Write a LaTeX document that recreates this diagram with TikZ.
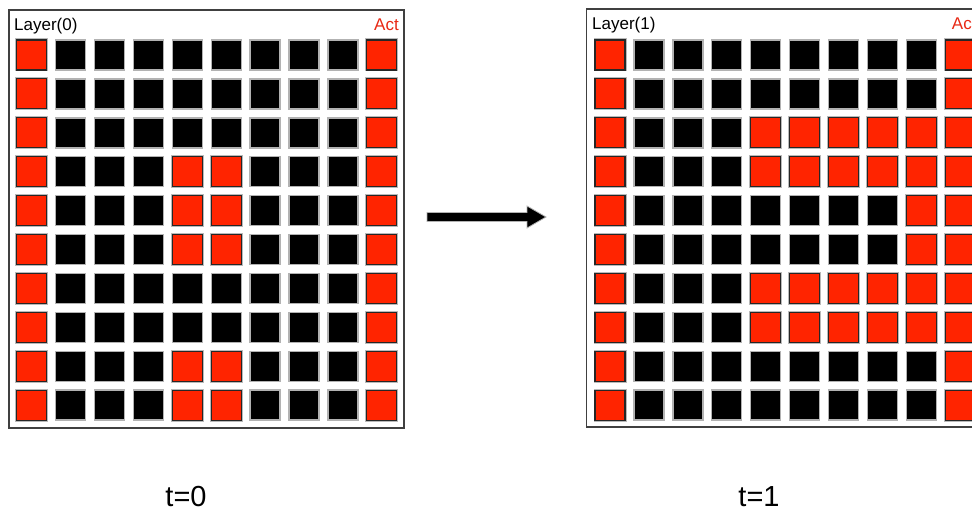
\documentclass[tikz,border=0pt]{standalone}
\usepackage{fontspec}
\setmainfont{Liberation Sans}
\definecolor{cellred}{RGB}{255,36,0}
\definecolor{actred}{RGB}{232,40,20}
\begin{document}
\begin{tikzpicture}[x=1pt,y=-1pt,
  cellbox/.style={minimum size=30pt,inner sep=0pt,outer sep=0pt},
  redcell/.style={cellbox,fill=cellred,draw=black!85,line width=1.1pt,
     preaction={draw=gray!55,line width=3pt}},
  blackcell/.style={cellbox,fill=black,draw=gray!60,line width=1.4pt},
  panel/.style={draw=black!75,line width=1.3pt,minimum width=395pt,minimum height=418pt,inner sep=0pt,outer sep=0pt},
  smalllabel/.style={font=\fontsize{17}{20}\selectfont,inner sep=0pt},
  timelabel/.style={font=\fontsize{29}{34}\selectfont,inner sep=0pt,anchor=base},
  blockarrow/.style={fill=black,draw=gray!60,line width=0.8pt}]
\useasboundingbox (0,0) rectangle (972,511);
\clip (0,0) rectangle (972,511);
\fill[white] (0,0) rectangle (972,511);

\def\patL{{1,0,0,0,0,0,0,0,0,1,
            1,0,0,0,0,0,0,0,0,1,
            1,0,0,0,0,0,0,0,0,1,
            1,0,0,0,1,1,0,0,0,1,
            1,0,0,0,1,1,0,0,0,1,
            1,0,0,0,1,1,0,0,0,1,
            1,0,0,0,0,0,0,0,0,1,
            1,0,0,0,0,0,0,0,0,1,
            1,0,0,0,1,1,0,0,0,1,
            1,0,0,0,1,1,0,0,0,1}}
\def\patR{{1,0,0,0,0,0,0,0,0,1,
            1,0,0,0,0,0,0,0,0,1,
            1,0,0,0,1,1,1,1,1,1,
            1,0,0,0,1,1,1,1,1,1,
            1,0,0,0,0,0,0,0,1,1,
            1,0,0,0,0,0,0,0,1,1,
            1,0,0,0,1,1,1,1,1,1,
            1,0,0,0,1,1,1,1,1,1,
            1,0,0,0,0,0,0,0,0,1,
            1,0,0,0,0,0,0,0,0,1}}

% panels
\node[panel] (P0) at (206.5,219) {};
\node[panel] (P1) at (784.2,218) {};

% labels
\node[smalllabel,anchor=base west] (lay0) at (14,31) {Layer(0)};
\node[smalllabel,anchor=base east,text=actred] (act0) at (399,31) {Act};
\node[smalllabel,anchor=base west] (lay1) at (592,30) {Layer(1)};
\node[smalllabel,anchor=base east,text=actred] (act1) at (976.7,30) {Act};

% cells
\foreach \i in {0,...,9}{
  \foreach \j in {0,...,9}{
    \pgfmathtruncatemacro{\va}{\patL[10*\i+\j]}
    \pgfmathtruncatemacro{\vb}{\patR[10*\i+\j]}
    \ifnum\va=1
      \node[redcell] (L-\i-\j) at (31.7+38.9*\j,55+38.9*\i) {};
    \else
      \node[blackcell] (L-\i-\j) at (31.7+38.9*\j,55+38.9*\i) {};
    \fi
    \ifnum\vb=1
      \node[redcell] (R-\i-\j) at (610+38.9*\j,55+38.9*\i) {};
    \else
      \node[blackcell] (R-\i-\j) at (610+38.9*\j,55+38.9*\i) {};
    \fi
  }
}

% arrow
\coordinate (A1) at (427,217);
\coordinate (A2) at (546,217);
\draw[blockarrow] (A1) -- ++(0,-4.5) -- ++(100,0) -- ++(0,-6.5) -- (A2)
  -- ++(-19,11) -- ++(0,-6.5) -- ++(-100,0) -- cycle;

% time labels
\node[timelabel] (t0) at (186,506) {t=0};
\node[timelabel] (t1) at (759,506) {t=1};
\end{tikzpicture}
\end{document}
